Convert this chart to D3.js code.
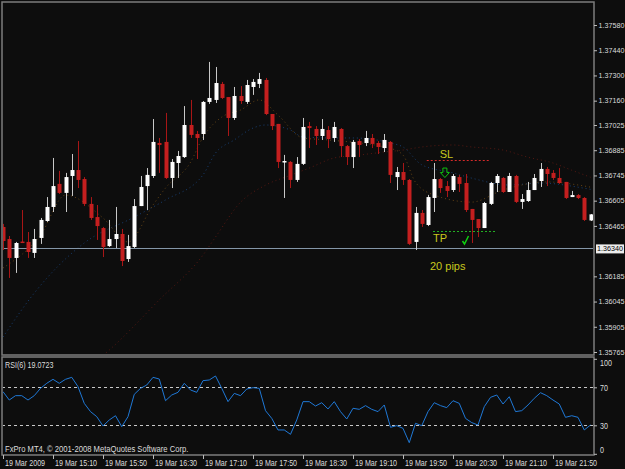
<!DOCTYPE html>
<html>
<head>
<meta charset="utf-8">
<script src="https://cdn.jsdelivr.net/npm/d3@7"></script>
<style>
  body { margin: 0; background: #0d0d0d; }
  svg { display: block; }
  .ax text, .lbl { font-family: "Liberation Sans", Arial, sans-serif; font-size: 8.5px; fill: #dcdcdc; }
  .price text, text.price { font-size: 7.2px; }
  .note { font-family: "Liberation Sans", Arial, sans-serif; font-size: 11px; fill: #c8c81e; }
</style>
</head>
<body>
<svg id="chart"></svg>
<script>
// EURUSD-ish M5 bars, 19 Mar 2009 14:30 .. 22:20
const openP  = [1.36459,1.36392,1.36287,1.36378,1.36376,1.36315,1.36398,1.36492,1.36570,1.36698,
                1.36648,1.36742,1.36775,1.36725,1.36587,1.36514,1.36453,1.36353,1.36392,1.36420,
                1.36281,1.36348,1.36575,1.36686,1.36742,1.36925,1.36931,1.36731,1.36814,1.36847,
                1.37025,1.36975,1.36975,1.37153,1.37164,1.37253,1.37180,1.37064,1.37186,1.37153,
                1.37236,1.37253,1.37275,1.37086,1.37031,1.36817,1.36820,1.36720,1.36809,1.37019,
                1.37003,1.36964,1.36997,1.36953,1.37003,1.36908,1.36847,1.36936,1.36925,1.36953,
                1.36925,1.36897,1.36931,1.36736,1.36764,1.36720,1.36376,1.36537,1.36470,1.36620,
                1.36725,1.36686,1.36664,1.36736,1.36703,1.36559,1.36503,1.36453,1.36587,1.36703,
                1.36731,1.36653,1.36742,1.36598,1.36603,1.36664,1.36714,1.36781,1.36759,1.36731,
                1.36709,1.36625,1.36636,1.36620,1.36495];
const highP  = [1.36476,1.36409,1.36376,1.36553,1.36431,1.36448,1.36509,1.36625,1.36842,1.36770,
                1.36759,1.36864,1.36936,1.36736,1.36625,1.36581,1.36459,1.36498,1.36570,1.36448,
                1.36415,1.36614,1.36742,1.36786,1.37058,1.36953,1.37092,1.36836,1.36881,1.37130,
                1.37164,1.36992,1.37158,1.37375,1.37347,1.37264,1.37180,1.37236,1.37241,1.37275,
                1.37280,1.37314,1.37286,1.37086,1.37031,1.36859,1.36825,1.36847,1.37064,1.37042,
                1.37019,1.37058,1.37019,1.37042,1.37008,1.36914,1.36942,1.36947,1.36992,1.36975,
                1.36936,1.36975,1.36936,1.36792,1.36814,1.36725,1.36570,1.36553,1.36637,1.36814,
                1.36731,1.36714,1.36753,1.36748,1.36753,1.36559,1.36503,1.36598,1.36709,1.36753,
                1.36736,1.36759,1.36748,1.36642,1.36709,1.36753,1.36814,1.36792,1.36775,1.36786,
                1.36709,1.36659,1.36642,1.36625,1.36531];
const lowP   = [1.36331,1.36176,1.36204,1.36370,1.36287,1.36287,1.36365,1.36487,1.36542,1.36642,
                1.36542,1.36631,1.36675,1.36575,1.36498,1.36387,1.36292,1.36348,1.36342,1.36242,
                1.36265,1.36342,1.36575,1.36553,1.36731,1.36759,1.36725,1.36675,1.36731,1.36842,
                1.36953,1.36836,1.36942,1.37142,1.37147,1.37169,1.36964,1.37053,1.37142,1.37142,
                1.37192,1.37230,1.37080,1.36997,1.36786,1.36620,1.36675,1.36709,1.36803,1.36897,
                1.36914,1.36942,1.36897,1.36931,1.36847,1.36803,1.36786,1.36847,1.36908,1.36897,
                1.36864,1.36875,1.36703,1.36664,1.36692,1.36359,1.36331,1.36459,1.36464,1.36542,
                1.36648,1.36625,1.36653,1.36653,1.36542,1.36370,1.36403,1.36453,1.36581,1.36653,
                1.36648,1.36653,1.36592,1.36559,1.36598,1.36664,1.36681,1.36686,1.36720,1.36698,
                1.36614,1.36625,1.36614,1.36492,1.36492];
const closeP = [1.36381,1.36287,1.36370,1.36373,1.36320,1.36392,1.36498,1.36570,1.36686,1.36648,
                1.36736,1.36775,1.36720,1.36587,1.36509,1.36464,1.36348,1.36392,1.36420,1.36270,
                1.36353,1.36575,1.36681,1.36748,1.36931,1.36914,1.36731,1.36820,1.36853,1.37025,
                1.36970,1.36953,1.37153,1.37175,1.37258,1.37175,1.37064,1.37186,1.37158,1.37247,
                1.37264,1.37280,1.37086,1.37019,1.36820,1.36825,1.36720,1.36809,1.37014,1.37008,
                1.36964,1.37003,1.36947,1.37014,1.36908,1.36847,1.36931,1.36914,1.36953,1.36920,
                1.36903,1.36942,1.36748,1.36764,1.36720,1.36365,1.36537,1.36476,1.36625,1.36725,
                1.36675,1.36659,1.36742,1.36698,1.36553,1.36498,1.36453,1.36592,1.36703,1.36742,
                1.36653,1.36742,1.36598,1.36614,1.36664,1.36731,1.36781,1.36753,1.36731,1.36703,
                1.36620,1.36636,1.36620,1.36498,1.36529];

const rsiVals = [65.4,56.6,61.2,61.2,56.6,61.2,68.9,74.2,78.4,74.2,
                 78.4,80.5,70.7,53.1,44.4,39.1,29.3,35.6,40.1,28.6,
                 39.1,62.6,68.9,72.4,80.5,78.7,55.9,61.9,64.7,74.2,
                 67.2,64.7,77.0,77.7,81.9,68.9,54.9,63.6,61.2,68.2,
                 69.6,68.9,45.4,37.3,25.1,25.1,20.5,35.6,54.9,54.9,
                 50.3,53.8,47.2,54.9,44.4,36.6,47.9,46.8,50.7,46.8,
                 44.4,51.4,27.9,29.6,26.8,11.7,32.1,29.6,44.4,53.8,
                 50.7,48.6,55.9,53.1,37.3,32.8,30.3,49.6,59.4,61.9,
                 52.4,60.1,44.4,45.4,51.4,58.4,64.3,61.2,56.6,52.4,
                 38.4,40.1,38.4,25.1,30.3];

// moving averages, read at a few bars only
const maFastBars = [0,6,10,16,20,24,26,30,32,35,38,41,44,48,52,62,64,66,69,75,80,87,92,94];
const maFastVals = [1.36231,1.36414,1.36636,1.36509,1.36376,1.36581,1.36675,1.36818,1.36957,1.37069,1.37108,1.37164,1.37080,1.36953,1.36942,1.36895,1.36858,1.36707,1.36636,1.36597,1.36664,1.36709,1.36692,1.36680];
const maMidBars  = [0,5,13,21,26,32,34,37,40,42,46,48,53,56,62,64,67,72,75,81,86,93,94];
const maMidVals  = [1.35848,1.36092,1.36370,1.36514,1.36609,1.36748,1.36869,1.36942,1.37008,1.37025,1.36997,1.36958,1.36953,1.36953,1.36925,1.36903,1.36804,1.36759,1.36730,1.36692,1.36703,1.36674,1.36668];
const maSlowBars = [14,17,25,32,34,38,42,46,49,53,57,61,64,67,72,75,80,84,88,91,94];
const maSlowVals = [1.35690,1.35776,1.36054,1.36303,1.36403,1.36596,1.36691,1.36746,1.36786,1.36842,1.36858,1.36875,1.36886,1.36903,1.36914,1.36903,1.36886,1.36846,1.36814,1.36774,1.36735];

const priceTicks = [1.37580,1.37440,1.37300,1.37160,1.37025,1.36885,1.36745,1.36605,1.36465,1.36185,1.36045,1.35905,1.35765];
const hLinePrice = 1.36340;
const timeTickBars = [0,8,16,24,32,40,48,56,64,72,80,88];
const timeLabels = ["19 Mar 2009","19 Mar 15:10","19 Mar 15:50","19 Mar 16:30","19 Mar 17:10","19 Mar 17:50",
                    "19 Mar 18:30","19 Mar 19:10","19 Mar 19:50","19 Mar 20:30","19 Mar 21:10","19 Mar 21:50"];
const rsiTicks = [100,70,30,0];
const rsiLevels = [70,30];

// trade objects
const slPrice = 1.36831, slFrom = 67.8, slTo = 78;
const tpPrice = 1.36434, tpFrom = 68.8, tpTo = 79;
const arrowBar = 70.7, arrowPrice = 1.36786;
const checkBar = 74, checkPrice = 1.36381;

const W = 625, H = 469;
const main = {left: 2, top: 2, right: 594, bottom: 355};
const sub  = {top: 357, bottom: 455};

const svg = d3.select('#chart').attr('width', W).attr('height', H);
svg.append('rect').attr('width', W).attr('height', H).attr('fill', '#0d0d0d');

const x  = d3.scaleLinear().domain([0, 94]).range([3, 590.5]);
const y  = d3.scaleLinear().domain([1.35765, 1.37580]).range([352, 25]);
const yr = d3.scaleLinear().domain([0, 100]).range([453.8, 358.8]);
const px = v => Math.round(v) + 0.5;

svg.append('clipPath').attr('id', 'clipMain').append('rect')
  .attr('x', main.left + 1).attr('y', main.top + 1)
  .attr('width', main.right - main.left - 2).attr('height', main.bottom - main.top - 2);
svg.append('clipPath').attr('id', 'clipSub').append('rect')
  .attr('x', main.left + 1).attr('y', sub.top + 1)
  .attr('width', main.right - main.left - 2).attr('height', sub.bottom - sub.top - 2);

const chart = svg.append('g').attr('clip-path', 'url(#clipMain)');

// moving averages (faint dotted)
const maLine = (bars, vals) => d3.line().x((d, i) => x(bars[i])).y(d => y(d)).curve(d3.curveMonotoneX)(vals);
[[maSlowBars, maSlowVals, '#561812'], [maMidBars, maMidVals, '#183f72'], [maFastBars, maFastVals, '#654414']]
  .forEach(([b, v, c]) => {
    chart.append('path').attr('d', maLine(b, v)).attr('fill', 'none')
      .attr('stroke', c).attr('stroke-width', 1).attr('stroke-dasharray', '1,3');
  });

// horizontal line
chart.append('line').attr('x1', main.left).attr('x2', main.right)
  .attr('y1', px(y(hLinePrice))).attr('y2', px(y(hLinePrice)))
  .attr('stroke', '#8496a8').attr('stroke-width', 1);

// candles
const bars = d3.range(openP.length);
chart.selectAll('line.wick').data(bars).enter().append('line').attr('class', 'wick')
  .attr('x1', i => px(x(i))).attr('x2', i => px(x(i)))
  .attr('y1', i => y(highP[i])).attr('y2', i => y(lowP[i]))
  .attr('stroke', i => closeP[i] >= openP[i] ? '#c8c8c8' : '#a81616').attr('stroke-width', 1);
chart.selectAll('rect.body').data(bars).enter().append('rect').attr('class', 'body')
  .attr('x', i => Math.round(x(i)) - 1.5)
  .attr('width', 4)
  .attr('y', i => y(Math.max(openP[i], closeP[i])))
  .attr('height', i => Math.max(1.5, Math.abs(y(openP[i]) - y(closeP[i]))))
  .attr('fill', i => closeP[i] >= openP[i] ? '#ffffff' : '#c41f1f');

// SL / TP
chart.append('line').attr('x1', x(slFrom)).attr('x2', x(slTo))
  .attr('y1', px(y(slPrice))).attr('y2', px(y(slPrice)))
  .attr('stroke', '#d42a2a').attr('stroke-dasharray', '2,2');
chart.append('line').attr('x1', x(tpFrom)).attr('x2', x(tpTo))
  .attr('y1', px(y(tpPrice))).attr('y2', px(y(tpPrice)))
  .attr('stroke', '#22b022').attr('stroke-dasharray', '2,2');
chart.append('text').attr('class', 'note').attr('x', x(slFrom) + 13).attr('y', y(slPrice) - 1.5).text('SL');
chart.append('text').attr('class', 'note').attr('x', x(tpFrom)).attr('y', y(tpPrice) + 11).text('TP');
chart.append('text').attr('class', 'note').attr('x', x(tpFrom) - 3).attr('y', y(hLinePrice) + 22).text('20 pips');

const ax = x(arrowBar), ay = y(arrowPrice);
chart.append('path')
  .attr('d', `M${ax - 2},${ay} h4 v4.5 h2.5 l-4.5,5 l-4.5,-5 h2.5 z`)
  .attr('fill', 'none').attr('stroke', '#10c010').attr('stroke-width', 1);
const cx = x(checkBar), cy = y(checkPrice);
chart.append('path')
  .attr('d', `M${cx - 3},${cy} L${cx - 1},${cy + 3} L${cx + 3},${cy - 5}`)
  .attr('fill', 'none').attr('stroke', '#10d010').attr('stroke-width', 1.5);

// RSI subwindow
const rsiG = svg.append('g').attr('clip-path', 'url(#clipSub)');
rsiLevels.forEach(l => {
  rsiG.append('line').attr('x1', main.left).attr('x2', main.right)
    .attr('y1', px(yr(l))).attr('y2', px(yr(l)))
    .attr('stroke', '#c8c8c8').attr('stroke-dasharray', '3,3');
});
rsiG.append('path')
  .attr('d', d3.line().x((d, i) => x(i)).y(d => yr(d))(rsiVals))
  .attr('fill', 'none').attr('stroke', '#1f78d6').attr('stroke-width', 1);

// frames
const frame = svg.append('g').attr('fill', 'none').attr('stroke', '#7c7c7c').attr('stroke-width', 1.5);
frame.append('rect').attr('x', main.left).attr('y', main.top)
  .attr('width', main.right - main.left).attr('height', main.bottom - main.top);
frame.append('rect').attr('x', main.left).attr('y', sub.top)
  .attr('width', main.right - main.left).attr('height', sub.bottom - sub.top);

// price axis
const yAxis = d3.axisRight(y).tickValues(priceTicks).tickSize(3).tickPadding(1.5).tickFormat(d3.format('.5f'));
const yAxisG = svg.append('g').attr('class', 'ax price').attr('transform', `translate(${main.right},0)`).call(yAxis);
yAxisG.select('.domain').remove();
yAxisG.selectAll('line').attr('stroke', '#bbbbbb');

// highlighted line price
const hy = y(hLinePrice);
svg.append('rect').attr('x', 596).attr('y', hy - 4).attr('width', 28).attr('height', 9).attr('fill', '#ececec');
svg.append('text').attr('class', 'lbl price').attr('x', 597).attr('y', hy + 3).style('fill', '#000').text(d3.format('.5f')(hLinePrice));

// RSI axis
const rAxis = d3.axisRight(yr).tickValues(rsiTicks).tickSize(3).tickPadding(3);
const rAxisG = svg.append('g').attr('class', 'ax').attr('transform', `translate(${main.right},0)`).call(rAxis);
rAxisG.select('.domain').remove();
rAxisG.selectAll('line').attr('stroke', '#bbbbbb');
rAxisG.selectAll('text').attr('dy', d => d === 100 ? '0.75em' : d === 0 ? '-0.1em' : '0.32em');

// time axis
const tAxis = d3.axisBottom(x).tickValues(timeTickBars).tickSize(4)
  .tickFormat((d, i) => timeLabels[i]);
const tAxisG = svg.append('g').attr('class', 'ax').attr('transform', `translate(0,${sub.bottom})`).call(tAxis);
tAxisG.select('.domain').remove();
tAxisG.selectAll('line').attr('stroke', '#bbbbbb');
tAxisG.selectAll('text').attr('text-anchor', 'start').attr('dx', 1.5).attr('y', 5);

// captions
svg.append('text').attr('class', 'lbl').attr('x', 5).attr('y', 368).text('RSI(6) 19.0723');
svg.append('text').attr('class', 'lbl copy').attr('x', 5).attr('y', 452).text('FxPro MT4, \u00a9 2001-2008 MetaQuotes Software Corp.');

// narrow the terminal-style small texts (price labels use a smaller font instead)
svg.selectAll('.ax text, .lbl').each(function() {
  if (this.classList.contains('price') || this.closest('.price')) return;
  const len = this.getComputedTextLength();
  const k = this.classList.contains('copy') ? 0.9 : 0.84;
  d3.select(this).attr('textLength', len * k).attr('lengthAdjust', 'spacingAndGlyphs');
});
</script>
</body>
</html>
